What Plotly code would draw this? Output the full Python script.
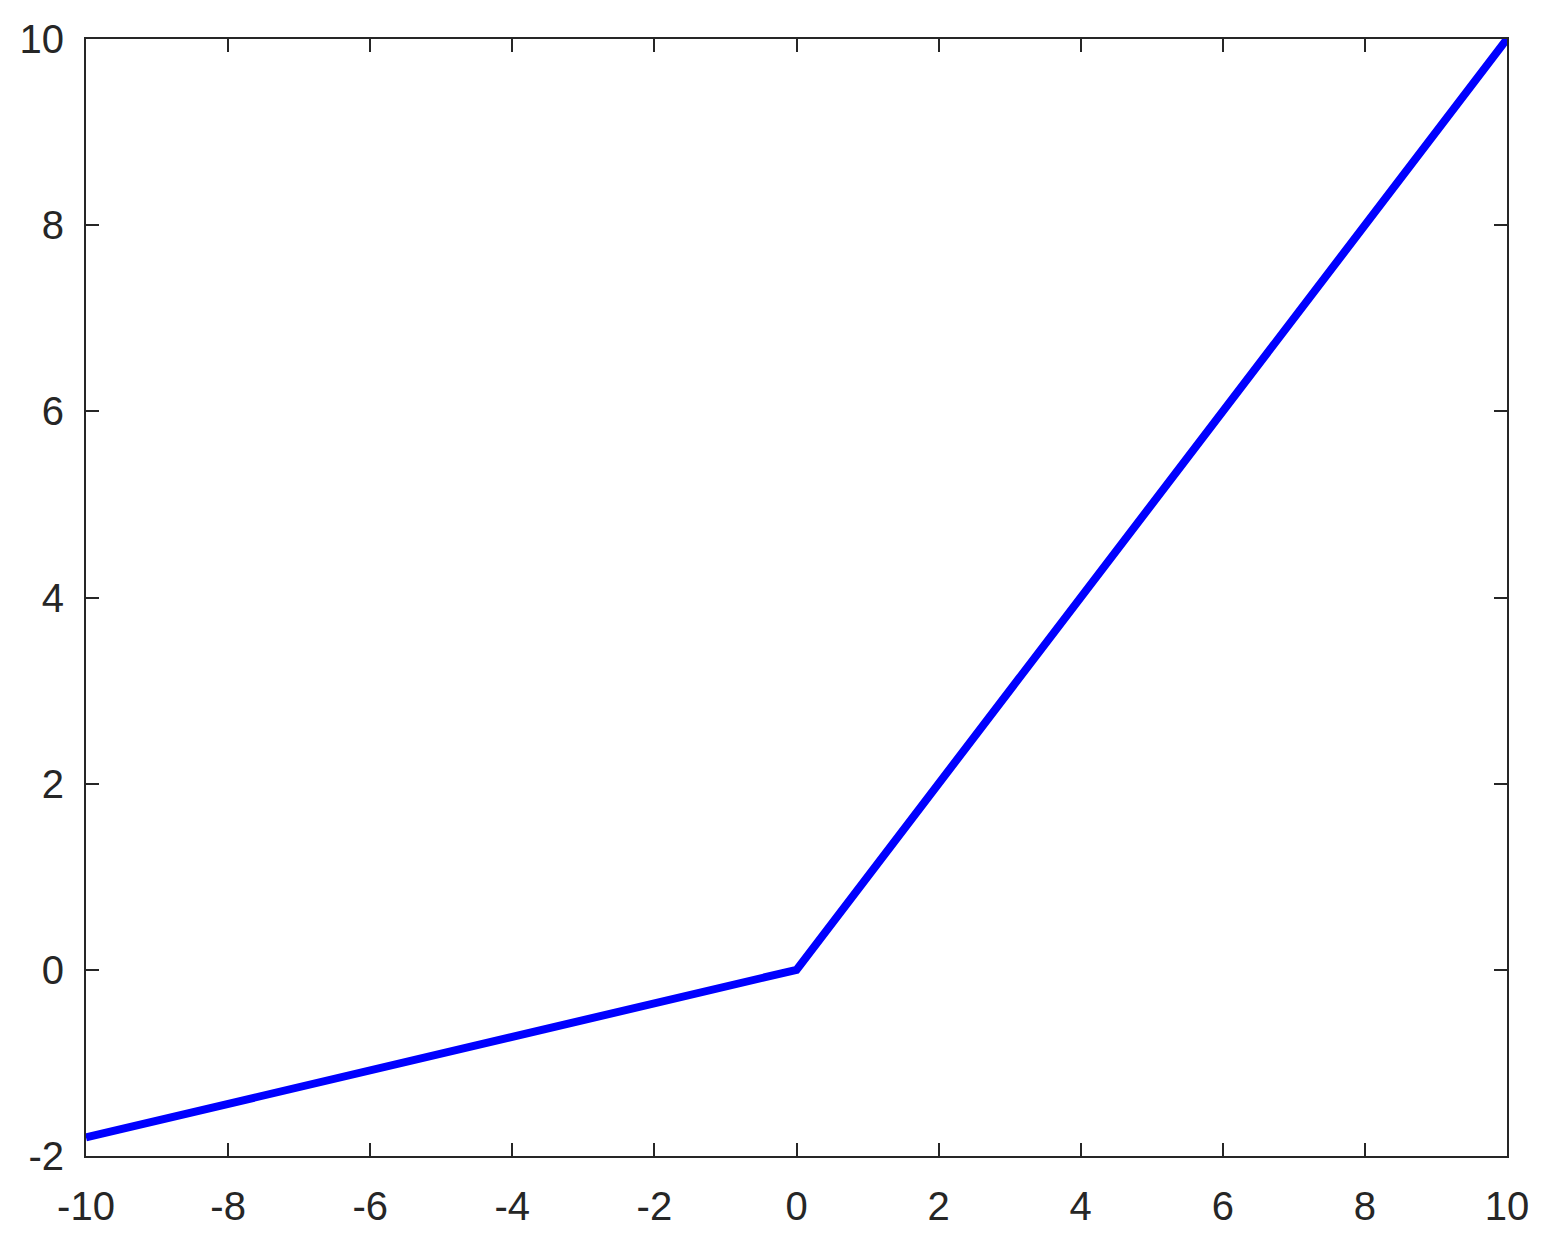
import plotly.graph_objects as go

# leaky-ReLU style curve: slope ~0.18 for x<0, 1 for x>=0
x_vals = [-10, 0, 10]
y_vals = [-1.8, 0, 10]

x_ticks = [-10, -8, -6, -4, -2, 0, 2, 4, 6, 8, 10]
y_ticks = [-2, 0, 2, 4, 6, 8, 10]

fig = go.Figure()
fig.add_trace(go.Scatter(x=x_vals, y=y_vals, mode='lines',
                         line=dict(color='#0000ff', width=8), cliponaxis=False))

axis_style = dict(showgrid=False, zeroline=False, showline=True, linecolor='#262626',
                  linewidth=2, mirror='ticks', ticks='inside', ticklen=13, tickwidth=1.5,
                  tickcolor='#262626', automargin=False,
                  tickfont=dict(family='Liberation Sans, Arial', size=40, color='#262626'))

# plain hyphen for negatives, like the original
fig.update_xaxes(range=[-10, 10], tickvals=x_ticks, ticktext=[str(t) for t in x_ticks],
                 ticklabelstandoff=14, **axis_style)
fig.update_yaxes(range=[-2, 10], tickvals=y_ticks, ticktext=[str(t) for t in y_ticks],
                 ticklabelstandoff=12, **axis_style)

fig.update_layout(width=1550, height=1244, plot_bgcolor='white', paper_bgcolor='white',
                  margin=dict(l=78, r=51, t=31, b=96), showlegend=False)

fig.write_html("out.html")
